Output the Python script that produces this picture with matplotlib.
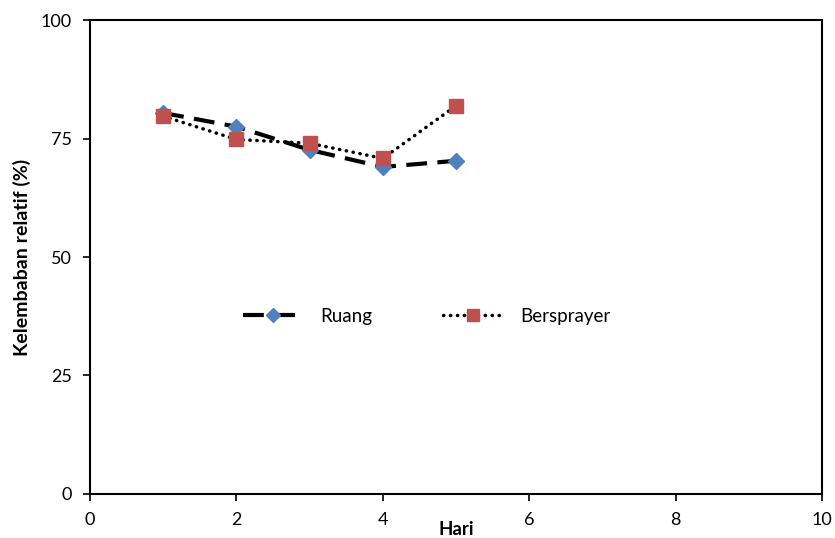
import numpy as np
import matplotlib
matplotlib.use("Agg")
import matplotlib.pyplot as plt

plt.rcParams['font.family'] = ['Lato', 'DejaVu Sans']

hari = [1, 2, 3, 4, 5]
ruang = [80.4, 77.5, 72.6, 69.0, 70.3]
bersprayer = [79.7, 74.8, 74.0, 70.8, 81.9]

fig = plt.figure(figsize=(8.35, 5.38), dpi=100)
ax = fig.add_axes([0.1078, 0.0818, 0.8766, 0.881])

ax.plot(hari, ruang, color="black", lw=3, dashes=(5, 2.5),
        marker="D", ms=8.5, mfc="#4F81BD", mec="#4F81BD", label="Ruang")
ax.plot(hari, bersprayer, color="black", lw=2.5, linestyle=(0, (0.1, 1.9)),
        dash_capstyle="round", marker="s", ms=10.5, mfc="#C0504D", mec="#C0504D",
        label="Bersprayer")

ax.set_xlim(0, 10)
ax.set_ylim(0, 100)
ax.set_xticks(np.arange(0, 11, 2))
ax.set_yticks(np.arange(0, 101, 25))
ax.tick_params(direction="out", length=5, width=1.2, labelsize=13)
ax.tick_params(axis="y", pad=8)
ax.tick_params(axis="x", pad=8)
for s in ax.spines.values():
    s.set_linewidth(1.5)

ax.set_xlabel("Hari", fontsize=13.5, fontweight="bold", labelpad=-5)
ax.set_ylabel("Kelembaban relatif (%)", fontsize=14, fontweight="bold", labelpad=7)

ax.legend(loc="center", bbox_to_anchor=(0.46, 0.375), ncol=2, frameon=False,
          fontsize=13.5, handlelength=3.2, handletextpad=0.9, columnspacing=3.8,
          markerscale=0.85)

fig.savefig("out.png", dpi=100)
